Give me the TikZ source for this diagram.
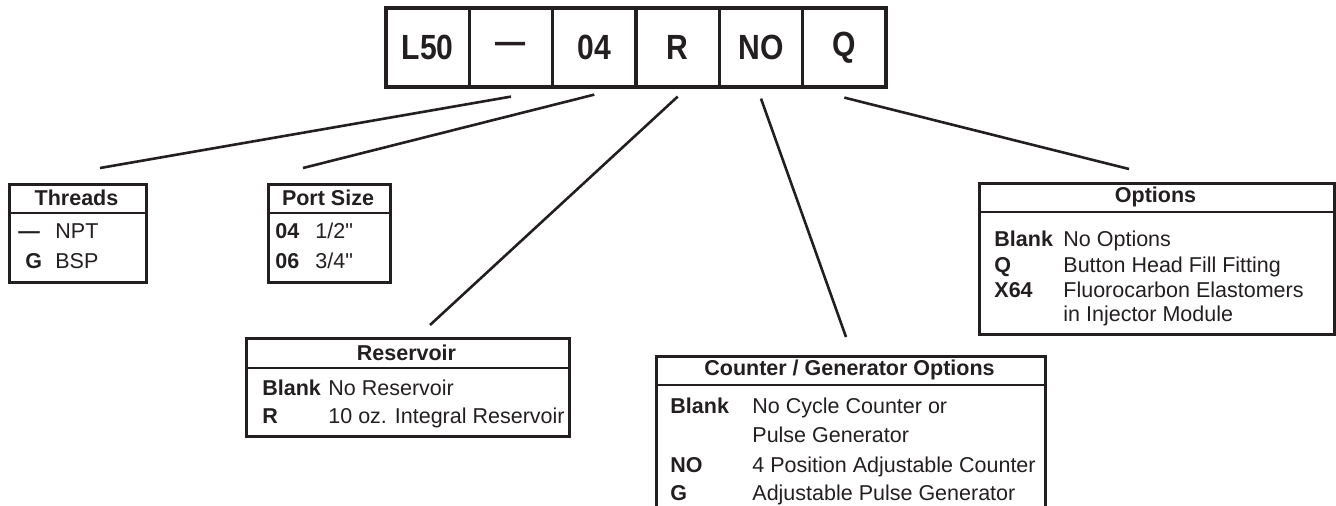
\documentclass[tikz,border=0pt]{standalone}
\usepackage{fontspec}
\setmainfont{Liberation Sans}[Ligatures=TeXOff]
\newfontfamily\cellfont{Liberation Sans}[FakeStretch=0.86]
\usetikzlibrary{positioning,calc}
\definecolor{ink}{RGB}{35,31,32}
\tikzset{%
	cell/.style={draw=ink, line width=1.6pt, minimum width=41.67pt, minimum height=39.5pt, inner sep=0pt, text=ink, font=\cellfont\fontsize{17.5}{20}\selectfont\bfseries},
	panel/.style={draw=ink, line width=1.4pt, anchor=north west, inner sep=0pt},
	head/.style={text=ink, inner sep=0pt, font=\fontsize{10.75}{12}\selectfont\bfseries},
	desc/.style={anchor=base west, text=ink, inner sep=0pt, font=\fontsize{10.75}{12}\selectfont},
	tag/.style={desc, font=\fontsize{10.75}{12}\selectfont\bfseries},
	link/.style={draw=ink, line width=1.3pt},
	rule/.style={draw=ink, line width=1.2pt}
}

\begin{document}
\begin{tikzpicture}[x=0.5pt, y=-0.5pt]
			\useasboundingbox (0,0) rectangle (1336,505);
			
			% model code
			\foreach \t [count=\i] in {L50,—,04,R,NO,Q}
				\node[cell] (c\i) at ({386+83.33*(\i-0.5)},47.5) {\t};
			
			% tables
			\node[panel, minimum width=68.5pt, minimum height=49pt] (thr) at (8,183) {};
			\draw[rule] ([yshift=-15pt]thr.north west) -- ([yshift=-15pt]thr.north east);
			\node[head] (thrh) at (76.5,198) {Threads};
			\node[tag] (thr1) at (18,238) {—};
			\node[desc] at (55,238) {NPT};
			\node[tag] (thr2) at (25,268) {G};
			\node[desc] at (55,268) {BSP};
			
			\node[panel, minimum width=61pt, minimum height=49pt] (port) at (267,183) {};
			\draw[rule] ([yshift=-15pt]port.north west) -- ([yshift=-15pt]port.north east);
			\node[head] (porth) at (328,198) {Port Size};
			\node[tag] at (275,238) {04};
			\node[desc] at (315,238) {1/2"};
			\node[tag] at (275,268) {06};
			\node[desc] at (315,268) {3/4"};
			
			\node[panel, minimum width=161.5pt, minimum height=49pt] (res) at (245,337) {};
			\draw[rule] ([yshift=-15.5pt]res.north west) -- ([yshift=-15.5pt]res.north east);
			\node[head] (resh) at (406.5,352.5) {Reservoir};
			\node[tag] at (262,395) {Blank};
			\node[desc] at (328,395) {No Reservoir};
			\node[tag] at (262,423) {R};
			\node[desc] at (328,423) {10 oz. Integral Reservoir};
			
			\node[panel, minimum width=194.5pt, minimum height=85pt] (cnt) at (655,355) {};
			\draw[rule] ([yshift=-15pt]cnt.north west) -- ([yshift=-15pt]cnt.north east);
			\node[head] (cnth) at (849.5,370) {Counter / Generator Options};
			\node[tag] at (670,413) {Blank};
			\node[desc] at (752,413) {No Cycle Counter or};
			\node[desc] at (752,442) {Pulse Generator};
			\node[tag] at (670,472) {NO};
			\node[desc] at (752,472) {4 Position Adjustable Counter};
			\node[tag] at (670,500) {G};
			\node[desc] at (752,500) {Adjustable Pulse Generator};
			
			\node[panel, minimum width=177.5pt, minimum height=75.5pt] (opt) at (978,182) {};
			\draw[rule] ([yshift=-15pt]opt.north west) -- ([yshift=-15pt]opt.north east);
			\node[head] (opth) at (1155.5,197) {Options};
			\node[tag] at (994,246) {Blank};
			\node[desc] at (1063,246) {No Options};
			\node[tag] at (994,272) {Q};
			\node[desc] at (1063,272) {Button Head Fill Fitting};
			\node[tag] at (994,297) {X64};
			\node[desc] at (1063,297) {Fluorocarbon Elastomers};
			\node[desc] at (1063,321) {in Injector Module};
			
			% leader lines
			\coordinate (thrTip) at (100,168);
			\coordinate (portTip) at (303,168);
			\coordinate (resTip) at (430,325);
			\coordinate (cntTip) at (846,337);
			\coordinate (optTip) at (1129,169);
			\draw[link] ([yshift=-4pt]c2.south) -- (thrTip);
			\draw[link] ([yshift=-3pt]c3.south) -- (portTip);
			\draw[link] ([yshift=-4pt]c4.south) -- (resTip);
			\draw[link] ([yshift=-5pt]c5.south) -- (cntTip);
			\draw[link] ([yshift=-4.5pt]c6.south) -- (optTip);
		\end{tikzpicture}
\end{document}
